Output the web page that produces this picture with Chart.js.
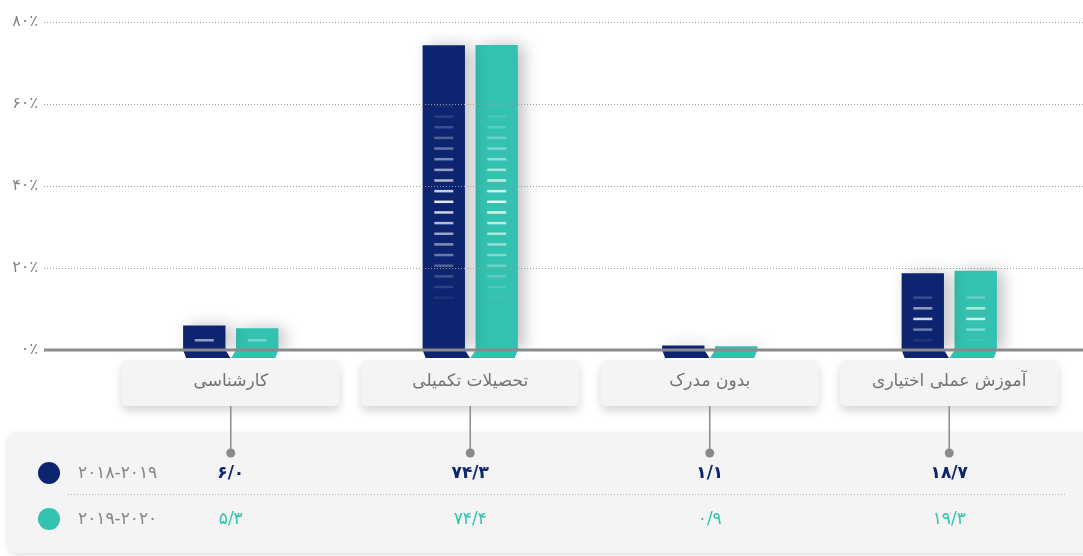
<!DOCTYPE html>
<html><head><meta charset="utf-8">
<script src="https://cdn.jsdelivr.net/npm/chart.js@4/dist/chart.umd.min.js"></script>
<style>html,body{margin:0;padding:0;background:#fff;}canvas{display:block;}</style>
</head><body>
<canvas id="c" width="1083" height="556"></canvas>
<script>
const categories = ['کارشناسی', 'تحصیلات تکمیلی', 'بدون مدرک', 'آموزش عملی اختیاری'];
const seriesNames = ['2018-2019', '2019-2020'];
const values2018 = [6.0, 74.3, 1.1, 18.7];
const values2019 = [5.3, 74.4, 0.9, 19.3];
const yTickValues = [0, 20, 40, 60, 80];
const colors = ['#0d2470', '#33c1b0'];

const FONT = "'DejaVu Sans', sans-serif";
const toFa = s => String(s).replace(/\d/g, d => '۰۱۲۳۴۵۶۷۸۹'[d]);
const fmtVal = v => toFa(v.toFixed(1)).replace('.', '/');

function rrect(ctx, x, y, w, h, r) {
  ctx.beginPath();
  ctx.moveTo(x + r, y);
  ctx.lineTo(x + w - r, y); ctx.quadraticCurveTo(x + w, y, x + w, y + r);
  ctx.lineTo(x + w, y + h - r); ctx.quadraticCurveTo(x + w, y + h, x + w - r, y + h);
  ctx.lineTo(x + r, y + h); ctx.quadraticCurveTo(x, y + h, x, y + h - r);
  ctx.lineTo(x, y + r); ctx.quadraticCurveTo(x, y, x + r, y);
  ctx.closePath();
}

const decor = {
  id: 'decor',
  beforeDraw(chart) {
    const ctx = chart.ctx, xs = chart.scales.x;
    ctx.save();
    ctx.fillStyle = '#fff';
    ctx.fillRect(0, 0, chart.width, chart.height);
    // bottom panel
    ctx.save();
    ctx.shadowColor = 'rgba(0,0,0,0.13)'; ctx.shadowBlur = 6; ctx.shadowOffsetY = 2;
    ctx.fillStyle = '#f4f4f4';
    rrect(ctx, 8, 432, 1120, 121, 10); ctx.fill();
    ctx.restore();
    // dotted separator
    ctx.save();
    ctx.strokeStyle = '#b5b5b5'; ctx.lineWidth = 1; ctx.setLineDash([1, 2]);
    ctx.beginPath(); ctx.moveTo(68, 494.5); ctx.lineTo(1065, 494.5); ctx.stroke();
    ctx.restore();
    // legend
    chart.data.datasets.forEach((ds, i) => {
      const y = i === 0 ? 473 : 519;
      ctx.fillStyle = ds.backgroundColor;
      ctx.beginPath(); ctx.arc(49, y, 11, 0, Math.PI * 2); ctx.fill();
      ctx.fillStyle = '#858585';
      ctx.font = '17px ' + FONT;
      ctx.textAlign = 'left'; ctx.textBaseline = 'middle';
      ctx.fillText(toFa(ds.label), 78, y + 1);
    });
    // category boxes, connectors, values
    categories.forEach((cat, i) => {
      const cx = xs.getPixelForValue(i);
      ctx.save();
      ctx.shadowColor = 'rgba(0,0,0,0.16)'; ctx.shadowBlur = 10; ctx.shadowOffsetY = 5;
      ctx.fillStyle = '#f4f4f4';
      rrect(ctx, cx - 109, 360, 218, 46, 6); ctx.fill();
      ctx.restore();
      ctx.fillStyle = '#727272';
      ctx.font = '17px ' + FONT;
      ctx.textAlign = 'center'; ctx.textBaseline = 'middle';
      ctx.fillText(cat, cx, 382);
      ctx.strokeStyle = '#8a8a8a'; ctx.lineWidth = 1.5;
      ctx.beginPath(); ctx.moveTo(cx, 406); ctx.lineTo(cx, 452); ctx.stroke();
      ctx.fillStyle = '#8a8a8a';
      ctx.beginPath(); ctx.arc(cx, 453, 4.5, 0, Math.PI * 2); ctx.fill();
      chart.data.datasets.forEach((ds, d) => {
        ctx.fillStyle = ds.backgroundColor;
        ctx.font = (d === 0 ? 'bold ' : '') + '17px ' + FONT;
        ctx.fillText(fmtVal(ds.data[i]), cx, d === 0 ? 474 : 520);
      });
    });
    ctx.restore();
  },
  beforeDatasetDraw(chart) {
    const ctx = chart.ctx;
    ctx.save();
    ctx.shadowColor = 'rgba(0,0,0,0.25)'; ctx.shadowBlur = 16; ctx.shadowOffsetX = 6;
  },
  afterDatasetDraw(chart) { chart.ctx.restore(); },
  afterDatasetsDraw(chart) {
    const ctx = chart.ctx, ys = chart.scales.y;
    ctx.save();
    chart.data.datasets.forEach((ds, d) => {
      const meta = chart.getDatasetMeta(d);
      meta.data.forEach(el => {
        const l = el.x - el.width / 2, r = el.x + el.width / 2, b = el.base, t = el.y;
        // folded foot
        ctx.fillStyle = ds.backgroundColor;
        ctx.beginPath();
        ctx.moveTo(l, b); ctx.lineTo(r, b);
        if (d === 0) { ctx.lineTo(r + 5, b + 8); ctx.lineTo(l + 3, b + 8); }
        else { ctx.lineTo(r - 3, b + 8); ctx.lineTo(l - 5, b + 8); }
        ctx.closePath(); ctx.fill();
        // stripes
        const half = (b - t) / 2, cy = (b + t) / 2 + 5;
        for (let m = 0; m < 40; m++) {
          const yy = b - 10 - 10.65 * m;
          if (yy < t + 6) break;
          const a = Math.max(0, 1 - Math.abs(yy - cy) / (0.72 * half));
          if (a <= 0.03) continue;
          ctx.fillStyle = 'rgba(255,255,255,' + (Math.pow(a, 1.3) * 0.9).toFixed(3) + ')';
          ctx.fillRect(el.x - 9.5, yy - 1, 19, 2.5);
        }
      });
    });
    // grid lines
    yTickValues.forEach(v => {
      const y = Math.round(ys.getPixelForValue(v));
      if (v === 0) {
        ctx.setLineDash([]);
        ctx.strokeStyle = '#8a8a8a'; ctx.lineWidth = 3;
        ctx.beginPath(); ctx.moveTo(44, y); ctx.lineTo(chart.width, y); ctx.stroke();
      } else {
        ctx.setLineDash([1, 2]);
        ctx.strokeStyle = '#9a9a9a'; ctx.lineWidth = 1;
        ctx.beginPath(); ctx.moveTo(44, y + 0.5); ctx.lineTo(chart.width, y + 0.5); ctx.stroke();
      }
    });
    ctx.restore();
  }
};

new Chart(document.getElementById('c'), {
  type: 'bar',
  data: {
    labels: categories,
    datasets: [
      { label: seriesNames[0], data: values2018, backgroundColor: colors[0] },
      { label: seriesNames[1], data: values2019, backgroundColor: colors[1] }
    ]
  },
  options: {
    responsive: false,
    animation: false,
    devicePixelRatio: 1,
    layout: { padding: { top: 22, right: 14, bottom: 206, left: 0 } },
    datasets: { bar: { categoryPercentage: 0.442, barPercentage: 0.8 } },
    plugins: { legend: { display: false }, tooltip: { enabled: false } },
    scales: {
      x: { display: false },
      y: {
        min: 0, max: 80,
        afterFit: s => { s.width = 111; s.paddingTop = 8; s.paddingBottom = 8; },
        afterBuildTicks: s => { s.ticks = yTickValues.map(v => ({ value: v })); },
        grid: { display: false, drawTicks: false },
        border: { display: false },
        ticks: {
          padding: 73,
          color: '#858585',
          font: { size: 16, family: FONT },
          callback: v => toFa(v) + '٪'
        }
      }
    }
  },
  plugins: [decor]
});
</script>
</body></html>
